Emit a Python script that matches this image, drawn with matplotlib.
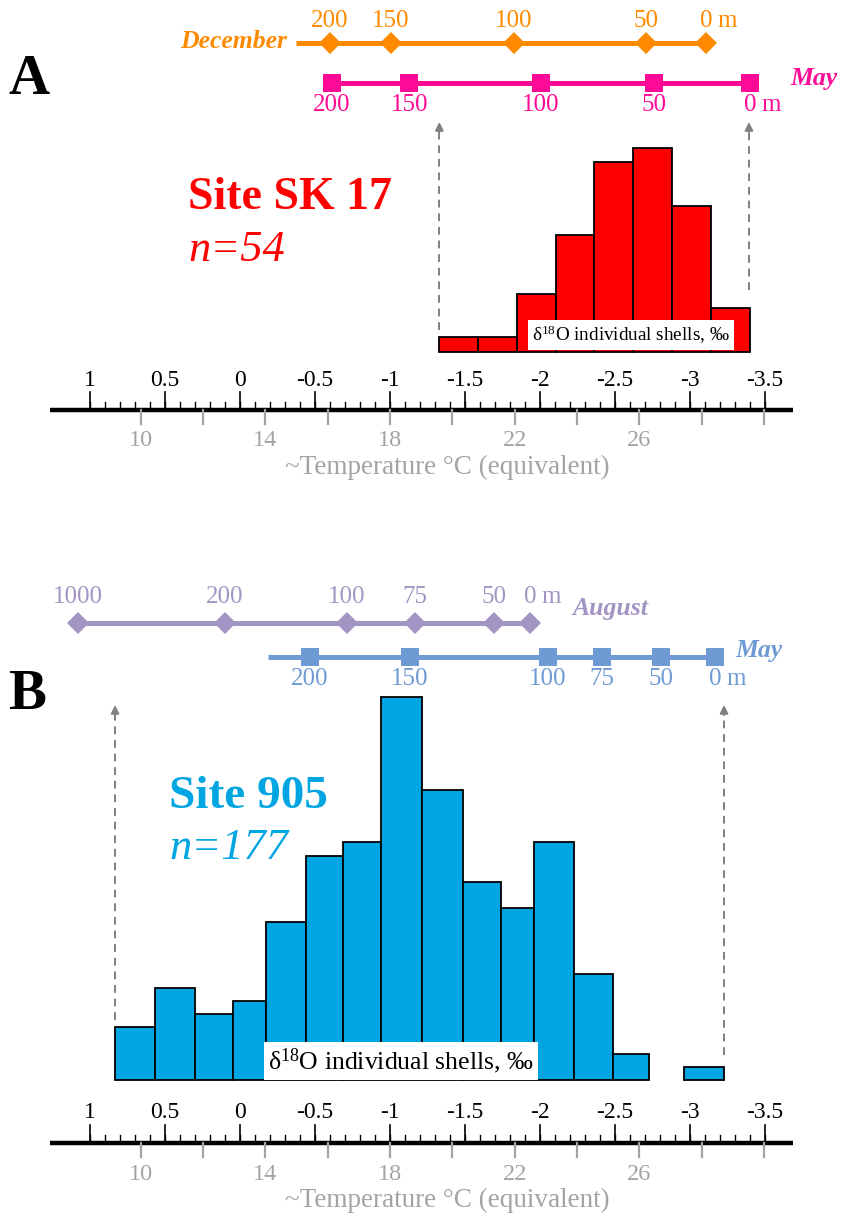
import numpy as np
import matplotlib
matplotlib.use("Agg")
import matplotlib.pyplot as plt

plt.rcParams['font.family'] = ['Liberation Serif', 'DejaVu Serif']
plt.rcParams['mathtext.fontset'] = 'custom'
plt.rcParams['mathtext.rm'] = 'Liberation Serif'
plt.rcParams['mathtext.it'] = 'Liberation Serif:italic'
plt.rcParams['mathtext.bf'] = 'Liberation Serif:bold'

# ---------------- data (x values are d18O, permil) ----------------
# panel A : Site SK 17
a_edges = [-1.329, -1.589, -1.845, -2.105, -2.362, -2.622, -2.878, -3.138, -3.4]
a_counts = [1, 1, 4, 8, 13, 14, 10, 3]
dec_depth = [200, 150, 100, 50, 0]
dec_d18o = [-0.6, -1.007, -1.827, -2.707, -3.107]
may_a_depth = [200, 150, 100, 50, 0]
may_a_d18o = [-0.611, -1.129, -2.007, -2.76, -3.4]

# panel B : Site 905
b_edges = [0.833, 0.567, 0.297, 0.05, -0.173, -0.439, -0.687, -0.943, -1.215,
           -1.484, -1.739, -1.96, -2.227, -2.485, -2.729, -2.961, -3.227]
b_counts = [4, 7, 5, 6, 12, 17, 18, 29, 22, 15, 13, 18, 8, 2, 0, 1]
aug_depth = [1000, 200, 100, 75, 50, 0]
aug_d18o = [1.08, 0.1, -0.713, -1.167, -1.693, -1.933]
may_b_depth = [200, 150, 100, 75, 50, 0]
may_b_d18o = [-0.467, -1.133, -2.053, -2.413, -2.807, -3.167]

# axis ticks
d18o_major = [1, 0.5, 0, -0.5, -1, -1.5, -2, -2.5, -3, -3.5]
temp_ticks = [10, 12, 14, 16, 18, 20, 22, 24, 26, 28, 30]
temp_labels = [10, 14, 18, 22, 26]

# colours
RED = '#FF0000'
CYAN = '#00A5E1'
ORANGE = '#FF8A00'
MAGENTA = '#FF0A96'
PURPLE = '#A295C3'
BLUE = '#6F9BD4'
GRAY = '#A3A3A3'
ARROW = '#808080'

W, H = 842, 1216
X_LEFT, X_RIGHT = 1.6, -4.0133   # d18O at the left / right edge of the figure


def temp_to_d18o(t):
    # temperature scale printed under the d18O axis
    return -1.0 - 0.2079 * (t - 18)


fig = plt.figure(figsize=(W / 100, H / 100), dpi=100)


def hist_axes(baseline_px, px_per_count, ymax):
    h = px_per_count * ymax
    hax = fig.add_axes([0, (H - baseline_px) / H, 1, h / H])
    hax.set_xlim(X_LEFT, X_RIGHT)
    hax.set_ylim(0, ymax)
    hax.axis('off')
    return hax


def draw_hist(hax, edges, counts, color):
    edges = np.array(edges)
    counts = np.array(counts)
    keep = counts > 0
    hax.bar(edges[:-1][keep], counts[keep], width=np.diff(edges)[keep], align='edge',
            color=color, edgecolor='black', linewidth=1.3, clip_on=False)


# overlay axes in (d18O, pixel) coordinates
ax = fig.add_axes([0, 0, 1, 1], zorder=5)
ax.set_xlim(X_LEFT, X_RIGHT)
ax.set_ylim(H, 0)
ax.axis('off')
ax.patch.set_alpha(0)


def depth_scale(d18o, depth, y, color, marker, ms, dy, line_from=None):
    x0 = d18o[0] if line_from is None else line_from
    ax.plot([x0, d18o[-1]], [y, y], color=color, lw=3.6, solid_capstyle='butt')
    ax.plot(d18o, [y] * len(d18o), ls='none', marker=marker, ms=ms, color=color, mew=0)
    for x, d in zip(d18o, depth):
        ax.text(x, y + dy, str(d), ha='center', va='center', fontsize=18, color=color)
    ax.annotate('m', (d18o[-1], y + dy), xytext=(8, 0), textcoords='offset points',
                ha='left', va='center', fontsize=18, color=color)


def d18o_axis(y):
    ax.plot([1.2667, -3.6867], [y, y], color='black', lw=3.2, solid_capstyle='butt')
    for t in np.arange(1.0, -3.55, -0.1):
        ax.plot([t, t], [y, y - 8], color='black', lw=1.0)
    for t in d18o_major:
        ax.plot([t, t], [y, y - 18], color='black', lw=1.2)
        ax.text(t, y - 30, '%g' % t, ha='center', va='center', fontsize=17)
    for T in temp_ticks:
        x = temp_to_d18o(T)
        ax.plot([x, x], [y, y + 14], color=GRAY, lw=1.6)
    for T in temp_labels:
        ax.text(temp_to_d18o(T), y + 31, str(T), ha='center', va='center',
                fontsize=17.5, color=GRAY)
    ax.text(-1.38, y + 57, '~Temperature \u00b0C (equivalent)', ha='center',
            va='center', fontsize=19.5, color=GRAY)


def dashed_arrow(x, y0, y1):
    ax.plot([x, x], [y0, y1 + 6], color=ARROW, lw=1.4, ls=(0, (4, 3)))
    ax.annotate('', xy=(x, y1), xytext=(x, y1 + 10),
                arrowprops=dict(arrowstyle='-|>', color=ARROW, lw=1.4,
                                mutation_scale=12, shrinkA=0, shrinkB=0))


BOX_TEXT = '\u03b4$^{18}$O individual shells, \u2030'

# ---------------- panel A ----------------
ha_ = hist_axes(352, 14.6, 15)
draw_hist(ha_, a_edges, a_counts, RED)

ax.text(X_LEFT - 29 / 150, 80, 'A', ha='center', va='center', fontsize=41, fontweight='bold')
depth_scale(dec_d18o, dec_depth, 43, ORANGE, 'D', 11.5, -22, line_from=-0.373)
ax.text(-0.313, 41, 'December', ha='right', va='center', fontsize=18.5,
        fontweight='bold', style='italic', color=ORANGE)
depth_scale(may_a_d18o, may_a_depth, 83, MAGENTA, 's', 12.5, 22)
ax.text(-3.667, 79, 'May', ha='left', va='center', fontsize=18.5,
        fontweight='bold', style='italic', color=MAGENTA)

dashed_arrow(a_edges[0], 330, 122)
dashed_arrow(-3.393, 290, 122)

ax.text(X_LEFT - 188 / 150, 209, 'Site SK 17', ha='left', va='baseline', fontsize=33,
        fontweight='bold', color=RED)
ax.text(X_LEFT - 188 / 150, 261, 'n=54', ha='left', va='baseline', fontsize=32,
        style='italic', color=RED)
ax.text(-2.607, 335, BOX_TEXT, ha='center', va='center', fontsize=13.8,
        bbox=dict(facecolor='white', edgecolor='none', pad=3))
d18o_axis(410)

# ---------------- panel B ----------------
hb = hist_axes(1080, 13.2, 30)
draw_hist(hb, b_edges, b_counts, CYAN)

ax.text(X_LEFT - 27 / 150, 695, 'B', ha='center', va='center', fontsize=41, fontweight='bold')
depth_scale(aug_d18o, aug_depth, 623, PURPLE, 'D', 11.5, -26)
ax.text(-2.213, 608, 'August', ha='left', va='center', fontsize=18.5,
        fontweight='bold', style='italic', color=PURPLE)
depth_scale(may_b_d18o, may_b_depth, 657, BLUE, 's', 12.5, 22, line_from=-0.187)
ax.text(-3.3, 650, 'May', ha='left', va='center', fontsize=18.5,
        fontweight='bold', style='italic', color=BLUE)

dashed_arrow(b_edges[0], 1020, 705)
dashed_arrow(b_edges[-1], 1055, 705)

ax.text(X_LEFT - 169 / 150, 808, 'Site 905', ha='left', va='baseline', fontsize=34,
        fontweight='bold', color=CYAN)
ax.text(X_LEFT - 169 / 150, 859, 'n=177', ha='left', va='baseline', fontsize=32,
        style='italic', color=CYAN)
ax.text(-1.073, 1061, BOX_TEXT, ha='center', va='center', fontsize=18.5,
        bbox=dict(facecolor='white', edgecolor='none', pad=3))
d18o_axis(1143)

fig.savefig('out.png', dpi=100)
